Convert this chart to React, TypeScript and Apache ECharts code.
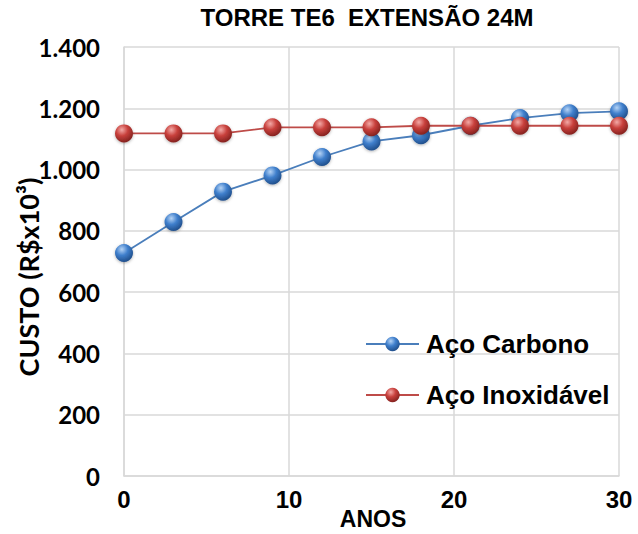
import React, { useEffect, useRef } from "react";
import * as echarts from "echarts";

const years = [0, 3, 6, 9, 12, 15, 18, 21, 24, 27, 30];
const carbono = [728, 829, 928, 981, 1041, 1092, 1112, 1143, 1168, 1184, 1190];
const inox = [1118, 1118, 1118, 1138, 1138, 1138, 1143, 1143, 1143, 1143, 1143];
const titleText = "TORRE TE6  EXTENSÃO 24M";
const xName = "ANOS";
const yName = "CUSTO (R$x10³)";
const seriesNames = ["Aço Carbono", "Aço Inoxidável"];

const sphere = (light: string, mid: string, dark: string) => ({
  type: "radial",
  x: 0.38,
  y: 0.3,
  r: 0.75,
  colorStops: [
    { offset: 0, color: light },
    { offset: 0.45, color: mid },
    { offset: 1, color: dark },
  ],
});

const ARIAL = "Liberation Sans, Arial, sans-serif";
const CALIBRI = "Lato, Open Sans, sans-serif";

export default function App() {
  const ref = useRef<HTMLDivElement>(null);
  useEffect(() => {
    const chart = echarts.init(ref.current!, null, { renderer: "svg" });
    const blue = sphere("#b5d3f5", "#3f7fcc", "#1d4a85");
    const red = sphere("#f3a9a6", "#c8403c", "#7e1f1c");
    chart.setOption({
      animation: false,
      backgroundColor: "#ffffff",
      title: {
        text: titleText,
        left: 367,
        textAlign: "center",
        top: 5,
        padding: 0,
        textStyle: { fontFamily: ARIAL, fontWeight: "bold", fontSize: 24, color: "#000" },
      },
      grid: { left: 124, right: 19, top: 47, bottom: 58, containLabel: false, outerBoundsMode: "none" },
      legend: {
        orient: "vertical",
        left: 365,
        top: 331,
        padding: 0,
        itemWidth: 53,
        itemHeight: 18,
        itemGap: 25,
        textStyle: { fontFamily: ARIAL, fontWeight: "bold", fontSize: 26, color: "#000", padding: [0, 0, 0, 2] },
        data: seriesNames,
      },
      graphic: [
        {
          type: "text",
          x: 28,
          y: 277,
          rotation: Math.PI / 2,
          style: {
            text: yName,
            fontFamily: CALIBRI,
            fontWeight: "bold",
            fontSize: 27,
            fill: "#000",
            align: "center",
            verticalAlign: "middle",
          },
        },
        {
          type: "text",
          x: 373,
          y: 519,
          style: {
            text: xName,
            fontFamily: ARIAL,
            fontWeight: "bold",
            fontSize: 23,
            fill: "#000",
            align: "center",
            verticalAlign: "middle",
          },
        },
      ],
      xAxis: {
        type: "value",
        min: 0,
        max: 30,
        interval: 10,
        axisLine: { show: true, lineStyle: { color: "#d9d9d9", width: 1.5 } },
        axisTick: { show: false },
        axisLabel: { fontFamily: ARIAL, fontWeight: "bold", fontSize: 24, color: "#000", margin: 11 },
        splitLine: { show: true, lineStyle: { color: "#d9d9d9", width: 1.5 } },
      },
      yAxis: {
        type: "value",
        min: 0,
        max: 1400,
        interval: 200,
        axisLine: { show: true, lineStyle: { color: "#d9d9d9", width: 1.5 } },
        axisTick: { show: false },
        axisLabel: {
          fontFamily: CALIBRI,
          fontWeight: "bold",
          fontSize: 24,
          color: "#000",
          margin: 24,
          formatter: (v: number) => v.toString().replace(/\B(?=(\d{3})+(?!\d))/g, "."),
        },
        splitLine: { show: true, lineStyle: { color: "#d9d9d9", width: 1.5 } },
      },
      series: [
        {
          name: seriesNames[0],
          type: "line",
          data: years.map((x, i) => [x, carbono[i]]),
          symbol: "circle",
          symbolSize: 18,
          lineStyle: { color: "#4a7ebb", width: 1.8 },
          itemStyle: { color: blue, borderWidth: 0, shadowColor: "rgba(0,0,0,0.3)", shadowBlur: 3, shadowOffsetY: 1 },
          z: 2,
        },
        {
          name: seriesNames[1],
          type: "line",
          data: years.map((x, i) => [x, inox[i]]),
          symbol: "circle",
          symbolSize: 18,
          lineStyle: { color: "#be4b48", width: 1.8 },
          itemStyle: { color: red, borderWidth: 0, shadowColor: "rgba(0,0,0,0.3)", shadowBlur: 3, shadowOffsetY: 1 },
          z: 3,
        },
      ],
    });
    return () => chart.dispose();
  }, []);
  return <div ref={ref} style={{ width: 638, height: 534, position: "absolute", left: 0, top: 0 }} />;
}
